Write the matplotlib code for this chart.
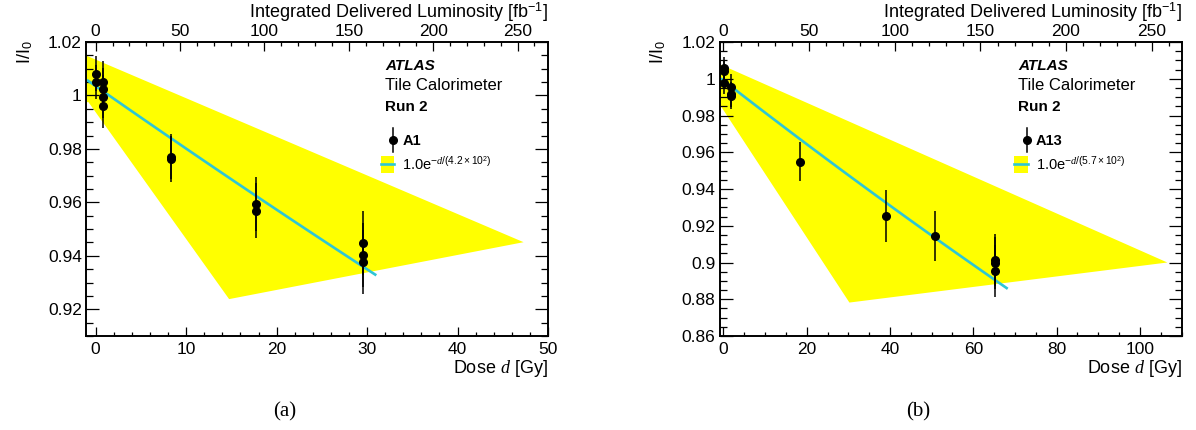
import numpy as np
import matplotlib
matplotlib.use('Agg')
import matplotlib.pyplot as plt
from matplotlib.patches import Rectangle
from matplotlib.ticker import MultipleLocator, FormatStrFormatter

plt.rcParams['font.family'] = ['Liberation Sans', 'DejaVu Sans']
plt.rcParams['mathtext.fontset'] = 'custom'
plt.rcParams['mathtext.rm'] = 'Liberation Sans'
plt.rcParams['mathtext.it'] = 'Liberation Serif:italic'
plt.rcParams['mathtext.bf'] = 'Liberation Sans:bold'

# panel (a): cell A1
dose_a = [0.0, 0.0, 0.85, 0.85, 0.85, 0.85, 8.3, 8.3, 17.7, 17.7, 29.6, 29.6, 29.6]
ratio_a = [1.0082, 1.0050, 1.0050, 1.0024, 0.9996, 0.9960, 0.9771, 0.9763,
           0.9594, 0.9569, 0.9447, 0.9402, 0.9376]
err_a = [0.0065, 0.0065, 0.008, 0.008, 0.008, 0.008, 0.0085, 0.0085,
         0.0102, 0.0102, 0.012, 0.012, 0.012]
fit_a = (1.0035, 424.0)        # amplitude, tau [Gy]
fit_range_a = (-0.85, 30.9)
band_dose_a = [-1.1, 47.3, 14.75, -0.8, -1.1]
band_ratio_a = [1.0150, 0.9451, 0.9238, 0.9975, 0.9975]
label_a = 'A1'
formula_a = r'1.0e$^{-d/(4.2\times10^{2})}$'

# panel (b): cell A13
dose_b = [0.2, 0.2, 0.2, 1.9, 1.9, 1.9, 18.4, 39.0, 50.9, 65.1, 65.1, 65.1]
ratio_b = [1.0058, 1.0043, 0.9975, 0.9955, 0.9915, 0.9905, 0.9549, 0.9253,
           0.9145, 0.9013, 0.8998, 0.8954]
err_b = [0.006, 0.006, 0.006, 0.007, 0.007, 0.007, 0.0108, 0.014, 0.0135,
         0.014, 0.014, 0.014]
fit_b = (0.999, 567.0)
fit_range_b = (-0.4, 68.0)
band_dose_b = [-1.0, 106.6, 30.24, -0.9, -1.0]
band_ratio_b = [1.0080, 0.9000, 0.8782, 0.9860, 0.9860]
label_b = 'A13'
formula_b = r'1.0e$^{-d/(5.7\times10^{2})}$'

W, H = 1196, 430
fig = plt.figure(figsize=(W / 100, H / 100), dpi=100)


def draw_panel(left, dose, ratio, err, fit, fit_range, band_d, band_r, label, formula,
               xlim, ylim, xmajor, xminor, lumi_lim, tag, tag_x):
    ax = fig.add_axes([left / W, 1 - 336 / H, 462 / W, 294 / H])
    ax.fill(band_d, band_r, color='#ffff00', lw=0, zorder=1)
    d = np.linspace(fit_range[0], fit_range[1], 100)
    ax.plot(d, fit[0] * np.exp(-d / fit[1]), color='#2ec6d6', lw=1.9, zorder=2)
    ax.errorbar(dose, ratio, yerr=err, fmt='o', color='black', ms=5.5,
                elinewidth=1.1, capsize=0, zorder=3)
    ax.set_xlim(*xlim)
    ax.set_ylim(*ylim)
    ax.xaxis.set_major_locator(MultipleLocator(xmajor))
    ax.xaxis.set_minor_locator(MultipleLocator(xminor))
    ax.yaxis.set_major_locator(MultipleLocator(0.02))
    ax.yaxis.set_minor_locator(MultipleLocator(0.005))
    ax.yaxis.set_major_formatter(FormatStrFormatter('%g'))
    ax.tick_params(axis='both', which='both', direction='in', labelsize=12.5,
                   top=False, right=True, width=0.9)
    ax.tick_params(axis='x', which='major', length=6.5, pad=4)
    ax.tick_params(axis='x', which='minor', length=3.2)
    ax.tick_params(axis='y', which='major', length=9.5, pad=3)
    ax.tick_params(axis='y', which='minor', length=4.8)
    for s in ax.spines.values():
        s.set_linewidth(1.2)

    top = ax.twiny()
    top.set_xlim(*lumi_lim)
    top.xaxis.set_major_locator(MultipleLocator(50))
    top.xaxis.set_minor_locator(MultipleLocator(10))
    top.tick_params(axis='x', which='both', direction='in', labelsize=12.5, width=0.9, pad=2)
    top.tick_params(axis='x', which='major', length=6.5)
    top.tick_params(axis='x', which='minor', length=3.2)
    for s in top.spines.values():
        s.set_linewidth(1.2)

    # text block and legend
    tr = ax.transAxes
    ax.text(0.647, 0.906, 'ATLAS', transform=tr, fontsize=11, fontweight='bold',
            fontstyle='italic', va='baseline')
    ax.text(0.647, 0.837, 'Tile Calorimeter', transform=tr, fontsize=12, va='baseline')
    ax.text(0.647, 0.766, 'Run 2', transform=tr, fontsize=11, fontweight='bold',
            va='baseline')
    ax.plot([0.665, 0.665], [0.627, 0.707], color='black', lw=1.1, transform=tr, zorder=5)
    ax.plot([0.665], [0.667], 'o', color='black', ms=5.5, transform=tr, zorder=5)
    ax.text(0.685, 0.650, label, transform=tr, fontsize=10.5, fontweight='bold',
            va='baseline')
    ax.add_patch(Rectangle((0.6377, 0.5534), 0.029, 0.06, transform=tr,
                           color='#ffff00', lw=0, zorder=5))
    ax.plot([0.6377, 0.6667], [0.584, 0.584], color='#2ec6d6', lw=1.9,
            transform=tr, zorder=6)
    ax.text(0.685, 0.565, formula, transform=tr, fontsize=10.5, va='baseline')

    right_px = left + 462
    fig.text(right_px / W, 1 - 372.7 / H, 'Dose $d$ [Gy]', ha='right', va='baseline',
             fontsize=13)
    fig.text(right_px / W, 1 - 18.5 / H, 'Integrated Delivered Luminosity [fb$^{-1}$]',
             ha='right', va='baseline', fontsize=13)
    fig.text((left - 61) / W, 1 - 40 / H, 'I/I$_0$', rotation=90, ha='center',
             va='top', fontsize=13)
    fig.text(tag_x / W, 1 - 411.7 / H, tag, ha='center', va='center', fontsize=15,
             family='Liberation Serif')
    return ax


draw_panel(86, dose_a, ratio_a, err_a, fit_a, fit_range_a, band_dose_a, band_ratio_a,
           label_a, formula_a, (-1.07, 50), (0.91, 1.02), 10, 2, (-5.7, 268), '(a)', 284.5)
draw_panel(719.5, dose_b, ratio_b, err_b, fit_b, fit_range_b, band_dose_b, band_ratio_b,
           label_b, formula_b, (-0.96, 110), (0.86, 1.02), 20, 5, (-2.3, 267.4), '(b)', 918)

fig.savefig('out.png', dpi=100)
